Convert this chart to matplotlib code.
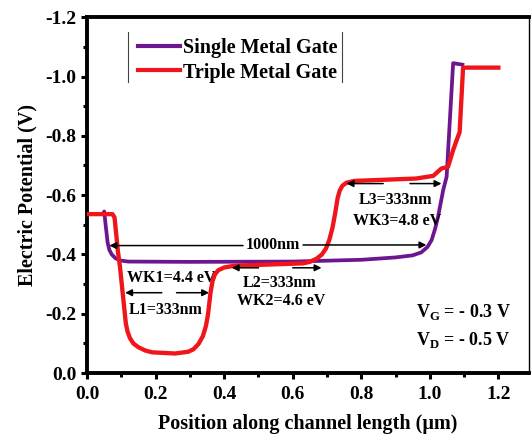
import matplotlib
matplotlib.use('Agg')
import matplotlib.pyplot as plt

# Single metal gate potential profile
single_x = [0.048, 0.05, 0.055, 0.06, 0.065, 0.072, 0.082, 0.095, 0.12, 0.3, 0.6, 0.8, 0.9,
            0.95, 0.975, 0.993, 1.005, 1.015, 1.024, 1.039, 1.049, 1.068, 1.095]
single_y = [-0.535, -0.545, -0.49, -0.44, -0.415, -0.40, -0.388, -0.38, -0.376, -0.375,
            -0.376, -0.382, -0.39, -0.397, -0.407, -0.425, -0.448, -0.485, -0.527, -0.617,
            -0.662, -1.045, -1.04]

# Triple metal gate potential profile
triple_x = [0.0, 0.074, 0.08, 0.084, 0.09, 0.096, 0.106, 0.113, 0.118, 0.125, 0.135, 0.15,
            0.17, 0.19, 0.257, 0.295, 0.31, 0.325, 0.338, 0.347, 0.353, 0.36, 0.366, 0.373,
            0.383, 0.40, 0.43, 0.63, 0.65, 0.67, 0.685, 0.697, 0.707, 0.716, 0.724, 0.731,
            0.737, 0.745, 0.757, 0.78, 0.96, 1.01, 1.034, 1.053, 1.068, 1.087, 1.097, 1.2]
triple_y = [-0.536, -0.536, -0.525, -0.48, -0.41, -0.358, -0.246, -0.168, -0.14, -0.118,
            -0.10, -0.087, -0.076, -0.07, -0.066, -0.072, -0.08, -0.098, -0.125, -0.16,
            -0.20, -0.27, -0.31, -0.333, -0.347, -0.356, -0.362, -0.37, -0.375, -0.386,
            -0.40, -0.42, -0.45, -0.49, -0.54, -0.59, -0.615, -0.632, -0.642, -0.648,
            -0.656, -0.665, -0.690, -0.695, -0.752, -0.813, -1.03, -1.03]

x_ticks = [0.0, 0.2, 0.4, 0.6, 0.8, 1.0, 1.2]
y_ticks = [0.0, -0.2, -0.4, -0.6, -0.8, -1.0, -1.2]

plt.rcParams['font.family'] = 'Liberation Serif'
plt.rcParams['font.weight'] = 'bold'
plt.rcParams['axes.labelweight'] = 'bold'
plt.rcParams['axes.unicode_minus'] = False
plt.rcParams['mathtext.fontset'] = 'custom'
plt.rcParams['mathtext.rm'] = 'Liberation Serif:bold'

purple = '#6e168f'
red = '#f0151b'

fig = plt.figure(figsize=(5.31, 4.41), dpi=100)
ax = fig.add_axes([0.164, 0.154, 0.832, 0.807])

ax.plot(single_x, single_y, color=purple, lw=2.7, label='Single Metal Gate', zorder=3)
ax.plot(triple_x, triple_y, color=red, lw=3.1, label='Triple Metal Gate', zorder=4)

ax.set_xlim(0, 1.289)
ax.set_ylim(0, -1.2)
ax.set_xticks(x_ticks)
ax.set_xticklabels(['%.1f' % v for v in x_ticks])
ax.set_yticks(y_ticks)
ax.set_yticklabels(['%.1f' % v if v != 0 else '0.0' for v in y_ticks])
ax.set_xticks([0.1, 0.3, 0.5, 0.7, 0.9, 1.1], minor=True)
ax.set_yticks([-0.1, -0.3, -0.5, -0.7, -0.9, -1.1], minor=True)
ax.tick_params(which='major', direction='out', length=4.5, width=2.2, labelsize=14, pad=3)
ax.tick_params(which='minor', direction='out', length=3, width=2.2)
ax.tick_params(axis='x', pad=5)

for side in ['left', 'bottom', 'top']:
    ax.spines[side].set_linewidth(2.8)
ax.spines['right'].set_linewidth(1.0)

ax.set_xlabel('Position along channel length (\u03bcm)', fontsize=14.5, labelpad=8)
ax.set_ylabel('Electric Potential (V)', fontsize=14.5, labelpad=6)

# arrows and labels
arrow = dict(arrowstyle='-|>', color='black', lw=1.1, mutation_scale=10, shrinkA=0, shrinkB=0)
ax.annotate('', xy=(0.065, -0.43), xytext=(0.455, -0.43), arrowprops=arrow, zorder=5)
ax.annotate('', xy=(0.99, -0.432), xytext=(0.63, -0.432), arrowprops=arrow, zorder=5)
ax.text(0.542, -0.431, '1000nm', fontsize=11.5, ha='center', va='center')

ax.annotate('', xy=(0.111, -0.271), xytext=(0.218, -0.271), arrowprops=arrow)
ax.annotate('', xy=(0.356, -0.271), xytext=(0.261, -0.271), arrowprops=arrow)
ax.text(0.246, -0.319, 'WK1=4.4 eV', fontsize=11.5, ha='center', va='center')
ax.text(0.23, -0.212, 'L1=333nm', fontsize=11.5, ha='center', va='center')

ax.annotate('', xy=(0.422, -0.355), xytext=(0.50, -0.355), arrowprops=arrow, zorder=5)
ax.annotate('', xy=(0.684, -0.355), xytext=(0.60, -0.355), arrowprops=arrow, zorder=5)
ax.text(0.563, -0.303, 'L2=333nm', fontsize=11.5, ha='center', va='center')
ax.text(0.565, -0.243, 'WK2=4.6 eV', fontsize=11.5, ha='center', va='center')

ax.annotate('', xy=(0.757, -0.639), xytext=(0.864, -0.639), arrowprops=arrow, zorder=5)
ax.annotate('', xy=(1.034, -0.639), xytext=(0.942, -0.639), arrowprops=arrow, zorder=5)
ax.text(0.90, -0.583, 'L3=333nm', fontsize=11.5, ha='center', va='center')
ax.text(0.905, -0.512, 'WK3=4.8 eV', fontsize=11.5, ha='center', va='center')

ax.text(0.961, -0.207, 'V$_\\mathrm{G}$ = - 0.3 V', fontsize=13, ha='left', va='center')
ax.text(0.961, -0.111, 'V$_\\mathrm{D}$ = - 0.5 V', fontsize=13, ha='left', va='center')

leg = ax.legend(loc='upper left', bbox_to_anchor=(0.11, 0.947), frameon=False,
                fontsize=14.5, handlelength=2.1, handletextpad=0.15, labelspacing=0.22,
                borderaxespad=0, borderpad=0.1)
for line in leg.get_lines():
    line.set_linewidth(3.0)
ax.plot([0.0923, 0.0923], [0.818, 0.959], color='#444444', lw=0.8, transform=ax.transAxes,
        clip_on=False)
ax.plot([0.576, 0.576], [0.818, 0.959], color='#444444', lw=0.8, transform=ax.transAxes,
        clip_on=False)

fig.savefig('out.png', dpi=100)
